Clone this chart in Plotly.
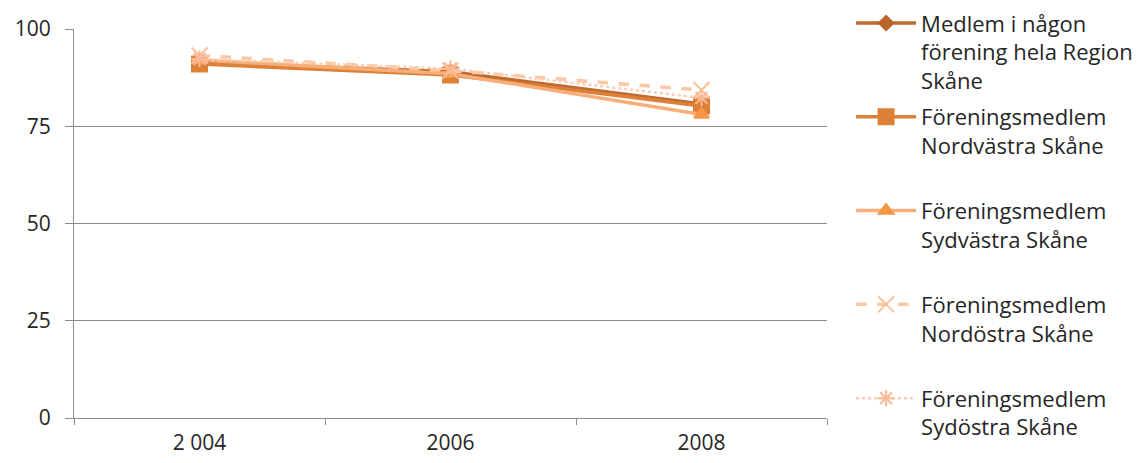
import plotly.graph_objects as go

years = ["2 004", "2006", "2008"]
names = [
    "Medlem i någon<br>förening hela Region<br>Skåne",
    "Föreningsmedlem<br>Nordvästra Skåne<br> ",
    "Föreningsmedlem<br>Sydvästra Skåne<br> ",
    "Föreningsmedlem<br>Nordöstra Skåne<br> ",
    "Föreningsmedlem<br>Sydöstra Skåne",
]
hela_region = [91.5, 89.0, 80.7]
nordvastra = [91.0, 88.2, 80.2]
sydvastra = [92.0, 88.5, 78.0]
nordostra = [93.2, 89.3, 84.3]
sydostra = [92.3, 89.8, 82.3]

series = [hela_region, nordvastra, sydvastra, nordostra, sydostra]
line_colors = ["#BF6A2E", "#DD8038", "#F8AE78", "#FBC8A4", "#FBCDB4"]
marker_colors = ["#B8652A", "#DD8038", "#F79646", "#FAC09A", "#F9B896"]
symbols = ["diamond", "square", "triangle-up", "x-thin", "asterisk"]
dashes = ["solid", "solid", "solid", "dash", "dot"]
widths = [3.5, 3.5, 3.5, 3.5, 2.5]
msizes = [11, 15, 13, 16, 14]

fig = go.Figure()
for i, vals in enumerate(series):
    fig.add_trace(go.Scatter(
        x=years, y=vals, name=names[i], mode="lines+markers",
        legendgroup="g%d" % i,
        line=dict(color=line_colors[i], width=widths[i], dash=dashes[i]),
        marker=dict(symbol=symbols[i], size=msizes[i], color=marker_colors[i],
                    line=dict(color=marker_colors[i], width=2)),
    ))

fig.update_layout(
    width=1145, height=463,
    margin=dict(l=66, r=326, t=21, b=53, autoexpand=False),
    paper_bgcolor="white", plot_bgcolor="white",
    font=dict(family="Open Sans, Lato, sans-serif", size=22, color="#262626"),
    showlegend=True,
    legend=dict(x=1.032, y=1.069, xanchor="left", yanchor="top",
                valign="top", tracegroupgap=5, traceorder="grouped",
                font=dict(size=22, color="#262626"), maxheight=462,
                itemwidth=60, bgcolor="rgba(0,0,0,0)"),
    xaxis=dict(type="category", range=[-0.5, 2.5], tickson="boundaries",
               ticks="outside", ticklen=6, tickcolor="#8c8c8c",
               showline=True, linecolor="#8c8c8c", linewidth=1,
               showgrid=False, tickfont=dict(size=21), ticklabelstandoff=6),
    yaxis=dict(range=[0, 100], tickvals=[0, 25, 50, 75, 100],
               ticks="outside", ticklen=8, tickcolor="#8c8c8c",
               showline=True, linecolor="#8c8c8c", linewidth=1,
               showgrid=True, gridcolor="#8c8c8c", gridwidth=1,
               zeroline=False, tickfont=dict(size=21), ticklabelstandoff=10),
)

fig.write_html("out.html")
